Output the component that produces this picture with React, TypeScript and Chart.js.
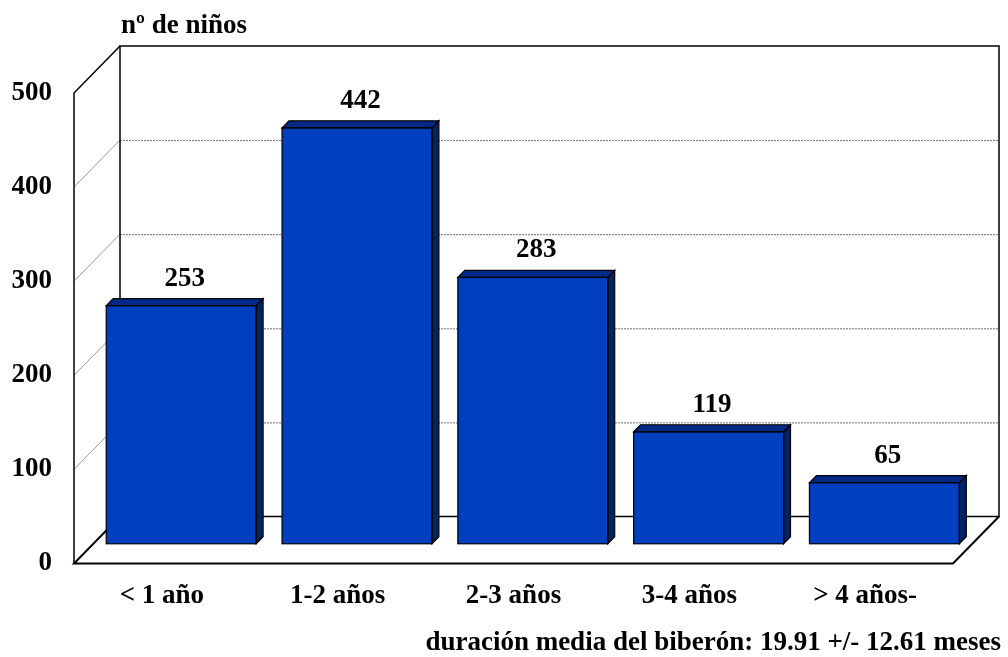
import React, { useEffect, useRef } from "react";
import { Chart, registerables } from "chart.js";

Chart.register(...registerables);

const categories = ["< 1 año", "1-2 años", "2-3 años", "3-4 años", "> 4 años-"];
const ninos = [253, 442, 283, 119, 65];
const yTicks = [0, 100, 200, 300, 400, 500];
const yTitle = "nº de niños";
const footnote = "duración media del biberón: 19.91 +/- 12.61 meses";

const FONT = "'Liberation Serif', 'Times New Roman', serif";
const FONT_SIZE = 27;

// depth vector from the front plane to the back wall (pixels)
const DEPTH = { dx: 46, dy: -47 };
// bars sit part way into the box and have a small depth of their own
const BAR_SHIFT = 0.42;
const BAR_DEPTH = 0.15;

const FRONT = "#0040c0";
const SIDE = "#002366";
const TOP = "#002a85";

const box3d = {
  id: "box3d",
  beforeDatasetsDraw(chart: any) {
    const { ctx, chartArea } = chart;
    const { left, right, top, bottom } = chartArea;
    const y = chart.scales.y;
    const { dx, dy } = DEPTH;
    ctx.save();
    // side wall diagonals and back wall grid lines
    yTicks.forEach((t) => {
      if (t === 0 || t === 500) return;
      const py = y.getPixelForValue(t);
      ctx.strokeStyle = "#9a9a9a";
      ctx.lineWidth = 1;
      ctx.setLineDash([]);
      ctx.beginPath();
      ctx.moveTo(left, py);
      ctx.lineTo(left + dx, py + dy);
      ctx.stroke();
      ctx.strokeStyle = "#707070";
      ctx.setLineDash([2, 1]);
      ctx.beginPath();
      ctx.moveTo(left + dx, py + dy + 0.5);
      ctx.lineTo(right + dx, py + dy + 0.5);
      ctx.stroke();
    });
    ctx.setLineDash([]);
    ctx.strokeStyle = "#000";
    ctx.lineWidth = 1.5;
    // back wall
    ctx.strokeRect(left + dx, top + dy, right - left, bottom - top);
    // side wall outline
    ctx.beginPath();
    ctx.moveTo(left, bottom);
    ctx.lineTo(left, top);
    ctx.lineTo(left + dx, top + dy);
    ctx.stroke();
    // floor
    ctx.lineWidth = 2;
    ctx.beginPath();
    ctx.moveTo(left + dx, bottom + dy);
    ctx.lineTo(left, bottom);
    ctx.lineTo(right, bottom);
    ctx.lineTo(right + dx, bottom + dy);
    ctx.stroke();
    ctx.restore();

    ctx.save();
    ctx.translate(DEPTH.dx * BAR_SHIFT, DEPTH.dy * BAR_SHIFT);
  },
  afterDatasetsDraw(chart: any) {
    const { ctx } = chart;
    ctx.restore();
    const sx = DEPTH.dx * BAR_SHIFT;
    const sy = DEPTH.dy * BAR_SHIFT;
    const bx = DEPTH.dx * BAR_DEPTH;
    const by = DEPTH.dy * BAR_DEPTH;
    const meta = chart.getDatasetMeta(0);
    ctx.save();
    ctx.lineWidth = 1.2;
    ctx.strokeStyle = "#000";
    ctx.lineJoin = "miter";
    meta.data.forEach((bar: any, i: number) => {
      const { x, y, base, width } = bar.getProps(["x", "y", "base", "width"], true);
      const l = x - width / 2 + sx;
      const r = x + width / 2 + sx;
      const t = y + sy;
      const b = base + sy;
      // right side face
      ctx.fillStyle = SIDE;
      ctx.beginPath();
      ctx.moveTo(r, t);
      ctx.lineTo(r + bx, t + by);
      ctx.lineTo(r + bx, b + by);
      ctx.lineTo(r, b);
      ctx.closePath();
      ctx.fill();
      ctx.stroke();
      // top face
      ctx.fillStyle = TOP;
      ctx.beginPath();
      ctx.moveTo(l, t);
      ctx.lineTo(l + bx, t + by);
      ctx.lineTo(r + bx, t + by);
      ctx.lineTo(r, t);
      ctx.closePath();
      ctx.fill();
      ctx.stroke();
      // front outline
      ctx.strokeRect(l, t, r - l, b - t);
      // value label
      ctx.fillStyle = "#000";
      ctx.font = `bold ${FONT_SIZE}px ${FONT}`;
      ctx.textAlign = "center";
      ctx.textBaseline = "alphabetic";
      ctx.fillText(String(ninos[i]), x + sx + bx / 2, t - 20);
    });
    ctx.restore();
  },
  afterDraw(chart: any) {
    const { ctx } = chart;
    ctx.save();
    ctx.fillStyle = "#000";
    ctx.font = `bold ${FONT_SIZE}px ${FONT}`;
    ctx.textBaseline = "alphabetic";
    ctx.textAlign = "left";
    ctx.fillText(yTitle, 121, 33);
    ctx.textAlign = "right";
    ctx.fillText(footnote, 1001, 650);
    ctx.restore();
  },
};

export default function App() {
  const ref = useRef<HTMLCanvasElement>(null);
  useEffect(() => {
    if (!ref.current) return;
    const chart = new Chart(ref.current, {
      type: "bar",
      data: {
        labels: categories,
        datasets: [
          {
            data: ninos,
            backgroundColor: FRONT,
            borderColor: "#000",
            borderWidth: 0,
            categoryPercentage: 1,
            barPercentage: 0.853,
            clip: false as any,
          },
        ],
      },
      options: {
        responsive: false,
        animation: false,
        devicePixelRatio: 1,
        layout: { padding: { top: 93, right: 55, left: 0, bottom: 0 } },
        plugins: { legend: { display: false }, tooltip: { enabled: false } },
        scales: {
          x: {
            grid: { display: false, drawTicks: false },
            border: { display: false },
            ticks: {
              color: "#000",
              font: { family: FONT, size: FONT_SIZE, weight: "bold" },
              padding: 16,
              maxRotation: 0,
            },
            afterFit: (s: any) => {
              s.height = 93.5;
            },
          },
          y: {
            min: 0,
            max: 500,
            grid: { display: false, drawTicks: false },
            border: { display: false },
            ticks: {
              stepSize: 100,
              color: "#000",
              font: { family: FONT, size: FONT_SIZE, weight: "bold" },
              padding: 22,
            },
            afterFit: (s: any) => {
              s.width = 74;
            },
          },
        },
      },
      plugins: [box3d],
    });
    return () => chart.destroy();
  }, []);
  return (
    <div style={{ position: "absolute", left: 0, top: 0, width: 1008, height: 657, background: "#fff" }}>
      <canvas ref={ref} width={1008} height={657} />
    </div>
  );
}
